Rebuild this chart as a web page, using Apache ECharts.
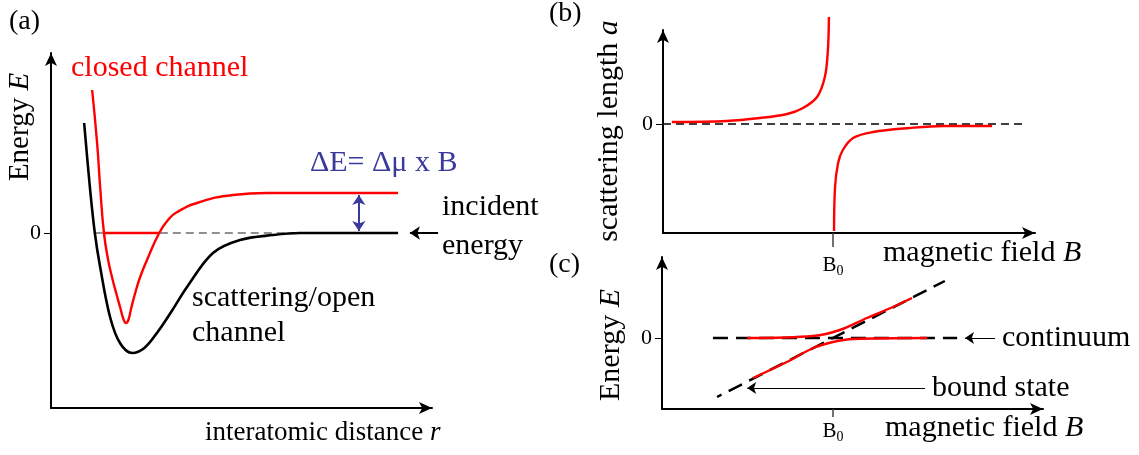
<!DOCTYPE html>
<html>
<head>
<meta charset="utf-8">
<script src="https://cdn.jsdelivr.net/npm/echarts@6/dist/echarts.min.js"></script>
<style>
html,body{margin:0;padding:0;background:#fff;}
#main{width:1139px;height:455px;}
</style>
</head>
<body>
<div id="main"></div>
<script>
// ---- panel (a): potential curves, r and E in arb. units
var openR   = [0.87, 1.02, 1.15, 1.29, 1.55, 1.81, 2.13, 2.45, 2.78, 3.17, 3.57, 4.25, 4.96, 5.83, 6.54, 9.11];
var openE   = [1.10, 0.46, 0.00, -0.34, -0.84, -1.10, -1.20, -1.15, -1.00, -0.78, -0.54, -0.20, -0.07, -0.02, 0.00, 0.00];
var closedR = [1.08, 1.21, 1.29, 1.39, 1.50, 1.60, 1.71, 1.82, 1.90, 1.97, 2.03, 2.10, 2.21, 2.34, 2.52, 2.84, 3.07, 3.31, 3.91, 4.78, 5.67, 9.11];
var closedE = [1.43, 0.90, 0.46, 0.00, -0.27, -0.44, -0.60, -0.75, -0.86, -0.90, -0.87, -0.76, -0.60, -0.44, -0.27, 0.00, 0.13, 0.21, 0.31, 0.38, 0.40, 0.40];
var boundR  = [1.39, 2.84];
var zeroR   = [1.15, 9.11];
var deltaR  = 8.08;
var deltaE  = [0.02, 0.38];
var incidentR = [10.16, 9.42];

// ---- panel (b): scattering length vs B
var aLeftB  = [0.26, 1.88, 2.85, 3.65, 4.12, 4.53, 4.76, 4.85, 4.88];
var aLeft   = [0.05, 0.075, 0.15, 0.25, 0.40, 0.675, 1.175, 1.85, 2.675];
var aRightB = [5.03, 5.06, 5.15, 5.29, 5.59, 6.18, 7.26, 8.24, 9.68];
var aRight  = [-2.675, -1.575, -0.975, -0.65, -0.35, -0.2, -0.1, -0.05, -0.05];
var aZeroB  = [0, 10.65];

// ---- panel (c): energy levels vs B
var B0 = 5;
var contB   = [1.49, 8.63];
var diagB   = [1.61, 8.27];
var diagE   = [-1.475, 1.425];
var upperB  = [2.49, 4.42, 5.20, 5.99, 6.75, 7.31];
var upperE  = [0.0, 0.05, 0.2, 0.5, 0.775, 1.0];
var lowerB  = [2.66, 3.65, 4.42, 5.0, 5.58, 7.75];
var lowerE  = [-1.0, -0.6, -0.25, -0.1, -0.025, 0.0];
var contArrowB  = [9.74, 8.86];
var boundArrowB = [7.69, 2.49];
var boundArrowE = -1.25;

function zip(xs, ys){
    var out = [];
    for (var i = 0; i < xs.length; i++) out.push([xs[i], ys[i]]);
    return out;
}
function flat(xs, y){
    return xs.map(function(x){ return [x, y]; });
}

var FONT = '"Liberation Serif", "Times New Roman", serif';
var RED = '#ff0000';
var BLUE = '#3a3a9c';

function axisLine(){
    return {show: true, onZero: false, symbol: ['none', 'arrow'], symbolSize: [9, 13],
            lineStyle: {color: '#000', width: 2}};
}
function b0Label(margin){
    return {show: true, customValues: [B0], margin: margin, fontFamily: FONT, fontSize: 21, color: '#000',
            formatter: function(){ return 'B{s|0}'; },
            rich: {s: {fontFamily: FONT, fontSize: 14, padding: [12, 0, 0, 0]}}};
}

var xAxes = [
    {gridIndex: 0, type: 'value', min: 0, max: 10, axisLine: axisLine(),
     axisTick: {show: false}, axisLabel: {show: false}, splitLine: {show: false}},
    {gridIndex: 1, type: 'value', min: 0, max: 372 / 34, axisLine: axisLine(),
     axisTick: {show: true, customValues: [B0], length: 14, lineStyle: {color: '#444', width: 1.5}},
     axisLabel: b0Label(19), splitLine: {show: false}},
    {gridIndex: 2, type: 'value', min: 0, max: 381 / 34.2, axisLine: axisLine(),
     axisTick: {show: true, customValues: [B0], length: 8, lineStyle: {color: '#444', width: 1.5}},
     axisLabel: b0Label(9), splitLine: {show: false}}
];

function yAxis(idx, min, max){
    return {gridIndex: idx, type: 'value', min: min, max: max, axisLine: axisLine(),
            axisTick: {show: true, customValues: [0], length: 7, lineStyle: {color: '#000', width: 1}},
            axisLabel: {show: true, customValues: [0], margin: 10, fontFamily: FONT, fontSize: 22, color: '#000'},
            splitLine: {show: false}};
}

var yAxes = [yAxis(0, -1.75, 1.8), yAxis(1, -2.725, 2.35), yAxis(2, -1.775, 2.025)];

function curve(ax, pts, color, width, extra){
    var s = {type: 'line', xAxisIndex: ax, yAxisIndex: ax, data: pts, symbol: 'none', silent: true,
             lineStyle: {color: color, width: width}};
    if (extra) for (var k in extra) s[k] = extra[k];
    return s;
}
function arrows(ax, segs, color, width, both, size){
    return {type: 'lines', coordinateSystem: 'cartesian2d', xAxisIndex: ax, yAxisIndex: ax, clip: false,
            symbol: [both ? 'arrow' : 'none', 'arrow'], symbolSize: size, silent: true,
            lineStyle: {color: color, width: width, opacity: 1},
            data: segs.map(function(s){ return {coords: s}; })};
}

var series = [
    // (a)
    curve(0, flat(zeroR, 0), '#222', 1.2, {lineStyle: {color: '#222', width: 1.2, type: [8, 5]}}),
    curve(0, zip(openR, openE), '#000', 2.6, {smooth: 0.35}),
    curve(0, flat(boundR, 0), RED, 2.4),
    curve(0, zip(closedR, closedE), RED, 2.4, {smooth: 0.5}),
    arrows(0, [[[deltaR, deltaE[0]], [deltaR, deltaE[1]]]], BLUE, 2, true, 10),
    arrows(0, [[[incidentR[0], 0], [incidentR[1], 0]]], '#000', 2, false, 10),
    // (b)
    curve(1, flat(aZeroB, 0), '#000', 1.3, {lineStyle: {color: '#000', width: 1.3, type: [8, 5]}}),
    curve(1, zip(aLeftB, aLeft), RED, 2.4, {smooth: 0.35, clip: false}),
    curve(1, zip(aRightB, aRight), RED, 2.4, {smooth: 0.35, clip: false}),
    // (c)
    curve(2, flat(contB, 0), '#000', 2.5, {lineStyle: {color: '#000', width: 2.5, type: [15, 8]}}),
    curve(2, zip(diagB, diagE), '#000', 2.5, {lineStyle: {color: '#000', width: 2.5, type: [15, 8], dashOffset: 10}}),
    curve(2, zip(upperB, upperE), RED, 2.4, {smooth: 0.35}),
    curve(2, zip(lowerB, lowerE), RED, 2.4, {smooth: 0.35}),
    arrows(2, [[[contArrowB[0], 0], [contArrowB[1], 0]],
               [[boundArrowB[0], boundArrowE], [boundArrowB[1], boundArrowE]]], '#000', 1, false, 9)
];

function txt(s, x, y, size, color){
    return {type: 'text', x: x, y: y, z: 100,
            style: {text: s, fontFamily: FONT, fontSize: size, fill: color || '#000',
                    textVerticalAlign: 'middle', textAlign: 'left',
                    rich: {i: {fontStyle: 'italic', fontFamily: FONT, fontSize: size, fill: color || '#000'}}}};
}
function vtxt(s, cx, cy, size){
    return {type: 'text', x: cx, y: cy, rotation: Math.PI / 2, z: 100,
            style: {text: s, fontFamily: FONT, fontSize: size, fill: '#000',
                    textAlign: 'center', textVerticalAlign: 'middle',
                    rich: {i: {fontStyle: 'italic', fontFamily: FONT, fontSize: size}}}};
}

var graphics = [
    txt('(a)', 9, 22, 28),
    txt('(b)', 549, 14, 28),
    txt('(c)', 549, 265, 28),
    txt('closed channel', 71, 68, 30, RED),
    txt('\u0394E= \u0394\u03bc x B', 310, 163, 30, BLUE),
    txt('incident', 442, 207, 30),
    txt('energy', 442, 246, 30),
    txt('scattering/open', 192, 298, 30),
    txt('channel', 192, 333, 30),
    txt('interatomic distance {i|r}', 205, 433, 27),
    vtxt('Energy {i|E}', 20, 127, 29),
    vtxt('scattering length {i|a}', 609, 131, 30),
    vtxt('Energy {i|E}', 611, 345, 30),
    txt('magnetic field {i|B}', 883, 253, 30),
    txt('magnetic field {i|B}', 885, 428, 30),
    txt('continuum', 1002, 338, 30),
    txt('bound state', 932, 388, 30)
];

var myChart = echarts.init(document.getElementById('main'), null, {renderer: 'canvas'});
var option = {
    backgroundColor: '#fff',
    animation: false,
    grid: [
        {left: 51, top: 53, width: 381, height: 355},
        {left: 663, top: 30, width: 372, height: 203},
        {left: 662, top: 257, width: 381, height: 152}
    ],
    xAxis: xAxes,
    yAxis: yAxes,
    series: series,
    graphic: graphics
};
myChart.setOption(option);
</script>
</body>
</html>
